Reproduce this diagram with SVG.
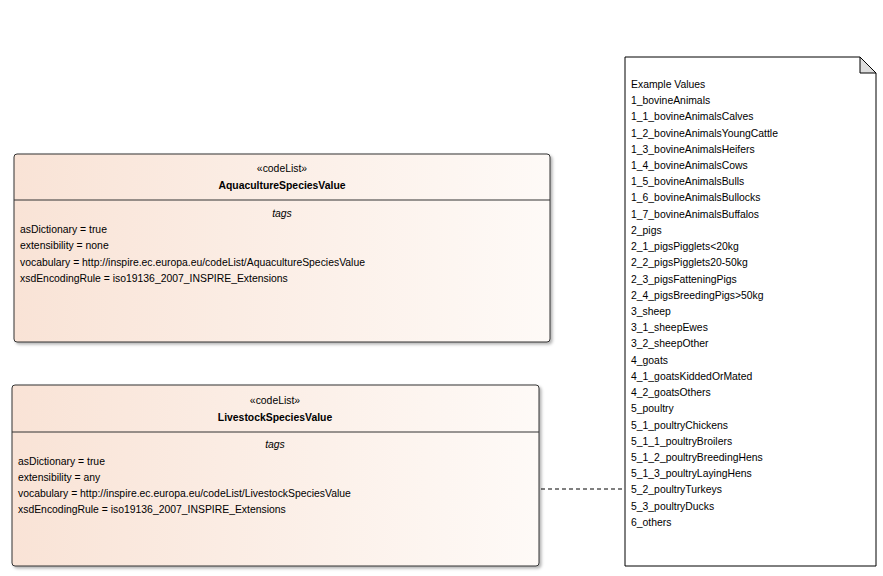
<svg xmlns="http://www.w3.org/2000/svg" width="883" height="576" viewBox="0 0 883 576">
<defs>
<linearGradient id="g" x1="0" y1="0" x2="1" y2="0"><stop offset="0" stop-color="#f9e3d6"/><stop offset="1" stop-color="#fefaf7"/></linearGradient>
<filter id="sh" x="-5%" y="-5%" width="110%" height="110%"><feDropShadow dx="2" dy="2" stdDeviation="1.5" flood-color="#000" flood-opacity="0.3"/></filter>
</defs>
<style>
text{font-family:"Liberation Sans",Arial,sans-serif;font-size:10.4px;fill:#000}
.b{font-weight:bold}.i{font-style:italic}.c{text-anchor:middle}
.box{fill:url(#g);stroke:#333;stroke-width:1}
</style>
<rect width="883" height="576" fill="#fff"/>
<g id="connectors"><line x1="541" y1="489" x2="625" y2="489" stroke="#000" stroke-dasharray="4,3"/></g>
<g id="AquacultureSpeciesValue">
<rect class="box" x="14" y="154" width="536" height="188" rx="3" filter="url(#sh)"/>
<line x1="14" y1="200" x2="550" y2="200" stroke="#333"/>
<text class="c" x="282" y="172">«codeList»</text>
<text class="c b" x="282" y="189">AquacultureSpeciesValue</text>
<text class="c i" x="282" y="217">tags</text>
<text x="20" y="233">asDictionary = true</text>
<text x="20" y="249">extensibility = none</text>
<text x="20" y="266">vocabulary = http://inspire.ec.europa.eu/codeList/AquacultureSpeciesValue</text>
<text x="20" y="282">xsdEncodingRule = iso19136_2007_INSPIRE_Extensions</text>
</g>
<g id="LivestockSpeciesValue">
<rect class="box" x="12" y="385" width="527" height="181" rx="3" filter="url(#sh)"/>
<line x1="12" y1="432" x2="539" y2="432" stroke="#333"/>
<text class="c" x="275" y="404">«codeList»</text>
<text class="c b" x="275" y="421">LivestockSpeciesValue</text>
<text class="c i" x="275" y="448">tags</text>
<text x="18" y="465">asDictionary = true</text>
<text x="18" y="481">extensibility = any</text>
<text x="18" y="497">vocabulary = http://inspire.ec.europa.eu/codeList/LivestockSpeciesValue</text>
<text x="18" y="513">xsdEncodingRule = iso19136_2007_INSPIRE_Extensions</text>
</g>
<g id="note">
<path d="M625,57 H860 L876,73 V566 H625 Z" fill="#fff" stroke="#000"/>
<path d="M860,57 V73 H876 Z" fill="#ddd" stroke="#000"/>
<text x="631" y="88">Example Values</text>
<text x="631" y="104">1_bovineAnimals</text>
<text x="631" y="120">1_1_bovineAnimalsCalves</text>
<text x="631" y="137">1_2_bovineAnimalsYoungCattle</text>
<text x="631" y="153">1_3_bovineAnimalsHeifers</text>
<text x="631" y="169">1_4_bovineAnimalsCows</text>
<text x="631" y="185">1_5_bovineAnimalsBulls</text>
<text x="631" y="201">1_6_bovineAnimalsBullocks</text>
<text x="631" y="218">1_7_bovineAnimalsBuffalos</text>
<text x="631" y="234">2_pigs</text>
<text x="631" y="250">2_1_pigsPigglets&lt;20kg</text>
<text x="631" y="266">2_2_pigsPigglets20-50kg</text>
<text x="631" y="283">2_3_pigsFatteningPigs</text>
<text x="631" y="299">2_4_pigsBreedingPigs&gt;50kg</text>
<text x="631" y="315">3_sheep</text>
<text x="631" y="331">3_1_sheepEwes</text>
<text x="631" y="347">3_2_sheepOther</text>
<text x="631" y="364">4_goats</text>
<text x="631" y="380">4_1_goatsKiddedOrMated</text>
<text x="631" y="396">4_2_goatsOthers</text>
<text x="631" y="412">5_poultry</text>
<text x="631" y="429">5_1_poultryChickens</text>
<text x="631" y="445">5_1_1_poultryBroilers</text>
<text x="631" y="461">5_1_2_poultryBreedingHens</text>
<text x="631" y="477">5_1_3_poultryLayingHens</text>
<text x="631" y="493">5_2_poultryTurkeys</text>
<text x="631" y="510">5_3_poultryDucks</text>
<text x="631" y="526">6_others</text>
</g>
</svg>
